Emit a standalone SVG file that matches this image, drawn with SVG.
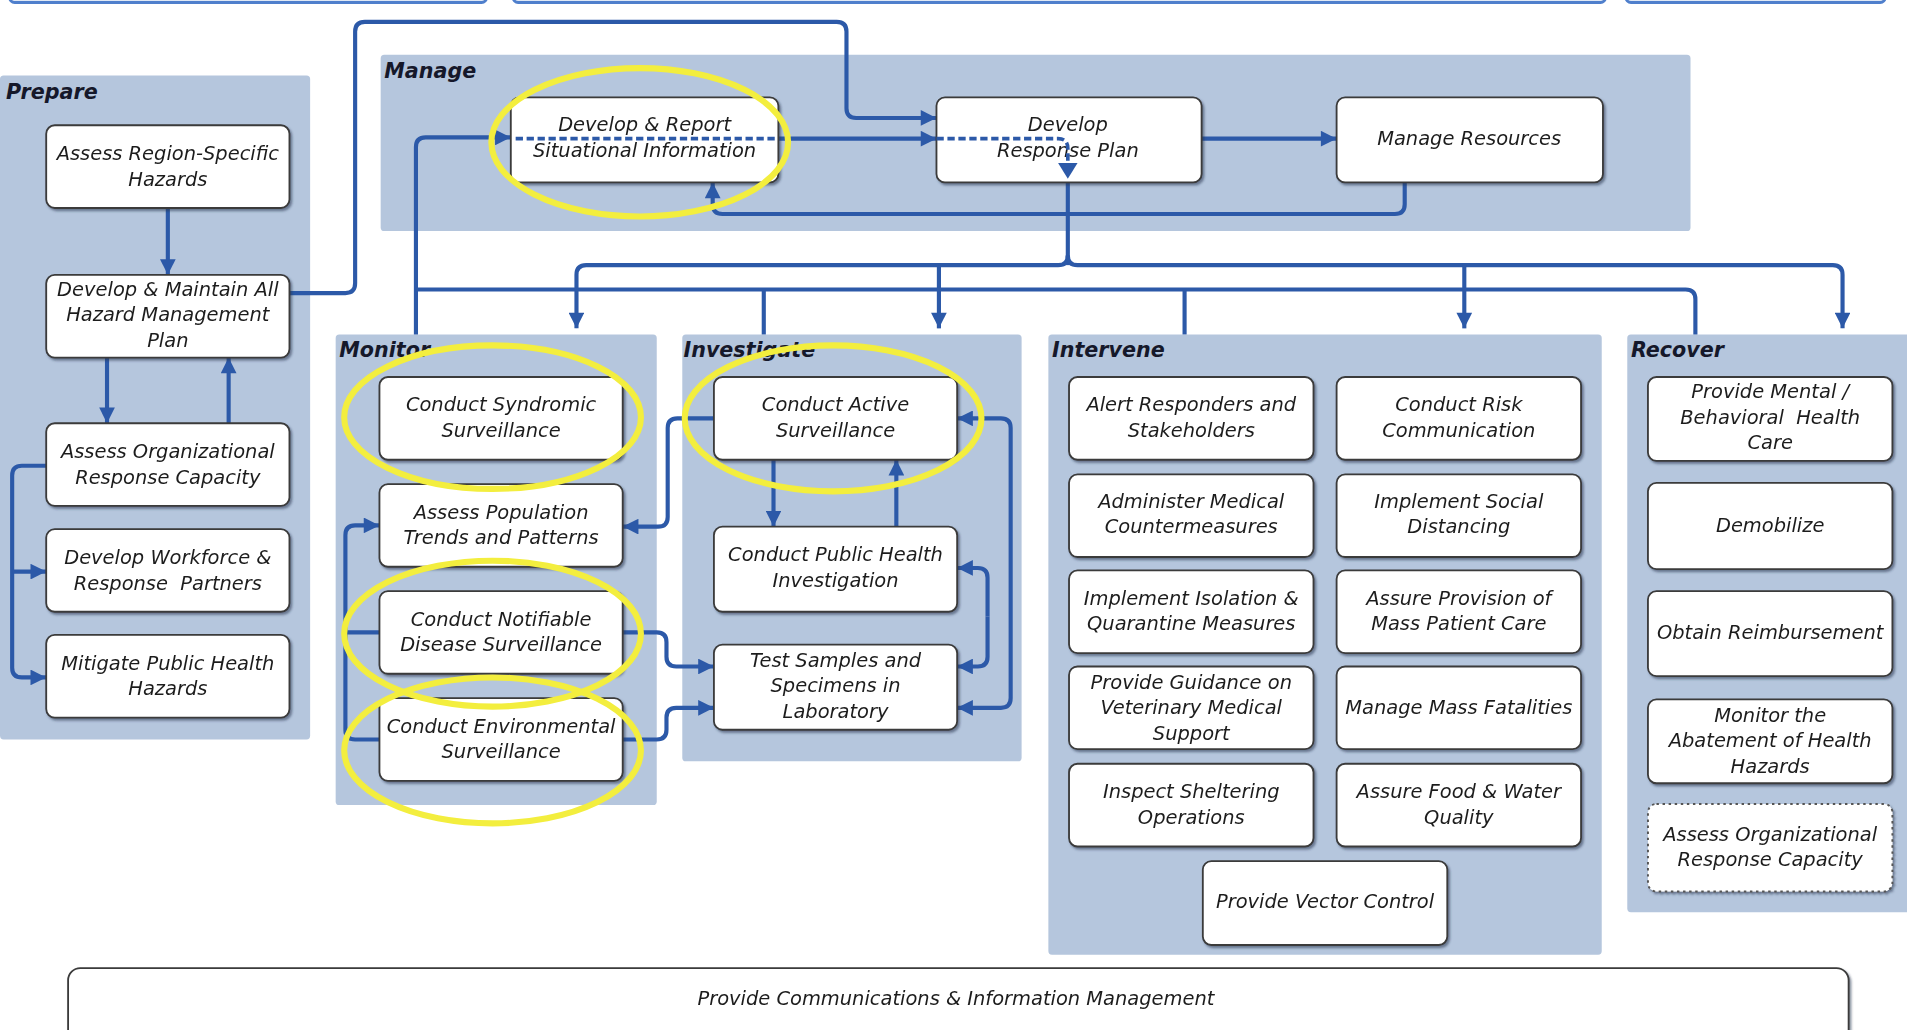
<svg xmlns="http://www.w3.org/2000/svg" width="1907" height="1030" viewBox="0 0 1907 1030">
<style>
.panel{fill:#b5c6dd}
.box{fill:#ffffff;stroke:#3a3a3a;stroke-width:1.5}
.dot{fill:#ffffff;stroke:#555;stroke-width:1.6;stroke-dasharray:2 3}
.t{font-family:'DejaVu Sans','Liberation Sans',sans-serif;font-style:italic;font-size:16px;fill:#1e1e1e;text-anchor:middle;dominant-baseline:central}
.lbl{font-family:'DejaVu Sans','Liberation Sans',sans-serif;font-style:italic;font-weight:bold;font-size:17px;fill:#15182a;dominant-baseline:central}
.c{fill:none;stroke:#2c59a8;stroke-width:3.4;stroke-linejoin:round}
.a{marker-end:url(#ah)}
.d{fill:none;stroke:#2c59a8;stroke-width:3;stroke-dasharray:6 3}
.ell{fill:none;stroke:#f3ee3e;stroke-width:5}
.strip{fill:#dfe8f5;stroke:#4f7fcc;stroke-width:2.5}
</style>
<defs>
<marker id="ah" viewBox="0 0 10 10" refX="10" refY="5" markerWidth="4.2" markerHeight="3.8" orient="auto" markerUnits="strokeWidth">
<path d="M0,0 L10,5 L0,10 z" fill="#2c59a8"/>
</marker>
<filter id="sh" x="-5%" y="-5%" width="115%" height="120%">
<feDropShadow dx="1.5" dy="1.8" stdDeviation="0.8" flood-color="#2a3550" flood-opacity="0.55"/>
</filter>
</defs>
<rect width="1907" height="1030" fill="#ffffff"/>
<g transform="scale(1.2162)">
<g id="top-strips">
<rect class="strip" x="8" y="-20" width="392" height="22" rx="4"/>
<rect class="strip" x="422" y="-20" width="898" height="22" rx="4"/>
<rect class="strip" x="1337" y="-20" width="213" height="22" rx="4"/>
</g>
<g id="panels">
<g id="panel-prepare"><rect class="panel" x="0" y="62" width="255" height="546" rx="3"/><text class="lbl" x="5" y="76">Prepare</text></g>
<g id="panel-manage"><rect class="panel" x="313" y="45" width="1077" height="145" rx="3"/><text class="lbl" x="316" y="58">Manage</text></g>
<g id="panel-monitor"><rect class="panel" x="276" y="275" width="264" height="387" rx="3"/><text class="lbl" x="279" y="288">Monitor</text></g>
<g id="panel-investigate"><rect class="panel" x="561" y="275" width="279" height="351" rx="3"/><text class="lbl" x="562" y="288">Investigate</text></g>
<g id="panel-intervene"><rect class="panel" x="862" y="275" width="455" height="510" rx="3"/><text class="lbl" x="865" y="288">Intervene</text></g>
<g id="panel-recover"><rect class="panel" x="1338" y="275" width="235" height="475" rx="3"/><text class="lbl" x="1341" y="288">Recover</text></g>
</g>
<g id="connectors">
<path class="c a" d="M138,171 V226"/>
<path class="c a" d="M88,294 V348"/>
<path class="c a" d="M188,348 V294"/>
<path class="c a" d="M38,383 H18 Q10,383 10,391 V549 Q10,557 18,557 H38"/>
<path class="c a" d="M10,470 H38"/>
<path class="c a" d="M238,241 H284 Q292,241 292,233 V26 Q292,18 300,18 H688 Q696,18 696,26 V89 Q696,97 704,97 H770"/>
<path class="c a" d="M342,275 V121 Q342,113 350,113 H420"/>
<path class="c" d="M342,238 H1386 Q1394,238 1394,246 V275"/>
<path class="c" d="M628,275 V238"/>
<path class="c" d="M974,275 V238"/>
<path class="c a" d="M640,114 H770"/>
<path class="c a" d="M988,114 H1099"/>
<path class="c a" d="M1155,150 V168 Q1155,176 1147,176 H594 Q586,176 586,168 V150"/>
<path class="c" d="M878,146 V218"/>
<path class="c a" d="M878,210 Q878,218 870,218 H482 Q474,218 474,226 V270"/>
<path class="c a" d="M878,210 Q878,218 886,218 H1507 Q1515,218 1515,226 V270"/>
<path class="c a" d="M772,218 V270"/>
<path class="c a" d="M1204,218 V270"/>
<path class="c a" d="M312,608 H292 Q284,608 284,600 V440 Q284,432 292,432 H312"/>
<path class="c" d="M312,520 H284"/>
<path class="c a" d="M587,344 H557 Q549,344 549,352 V425 Q549,433 541,433 H512"/>
<path class="c a" d="M636,378 V433"/>
<path class="c a" d="M737,433 V378"/>
<path class="c a" d="M512,520 H540 Q548,520 548,528 V540 Q548,548 556,548 H587"/>
<path class="c a" d="M512,608 H540 Q548,608 548,600 V590 Q548,582 556,582 H587"/>
<path class="c a" d="M831,463 V352 Q831,344 823,344 H787"/>
<path class="c a" d="M831,463 V574 Q831,582 823,582 H787"/>
<path class="c a" d="M812,507 V475 Q812,467 804,467 H787"/>
<path class="c a" d="M812,507 V540 Q812,548 804,548 H787"/>
</g>
<g id="nodes" filter="url(#sh)">
<g id="n-assess-region"><rect class="box" x="38" y="103" width="200" height="68" rx="7"/><text class="t" x="138" y="126.5">Assess Region-Specific</text><text class="t" x="138" y="147.5">Hazards</text></g>
<g id="n-develop-plan"><rect class="box" x="38" y="226" width="200" height="68" rx="7"/><text class="t" x="138" y="238">Develop &amp; Maintain All</text><text class="t" x="138" y="259">Hazard Management</text><text class="t" x="138" y="280">Plan</text></g>
<g id="n-assess-org"><rect class="box" x="38" y="348" width="200" height="68" rx="7"/><text class="t" x="138" y="371.5">Assess Organizational</text><text class="t" x="138" y="392.5">Response Capacity</text></g>
<g id="n-workforce"><rect class="box" x="38" y="435" width="200" height="68" rx="7"/><text class="t" x="138" y="458.5">Develop Workforce &amp;</text><text class="t" x="138" y="479.5" xml:space="preserve">Response  Partners</text></g>
<g id="n-mitigate"><rect class="box" x="38" y="522" width="200" height="68" rx="7"/><text class="t" x="138" y="545.5">Mitigate Public Health</text><text class="t" x="138" y="566.5">Hazards</text></g>

<g id="n-sitinfo"><rect class="box" x="420" y="80" width="220" height="70" rx="7"/><text class="t" x="530" y="102">Develop &amp; Report</text><text class="t" x="530" y="124">Situational Information</text></g>
<g id="n-response-plan"><rect class="box" x="770" y="80" width="218" height="70" rx="7"/><text class="t" x="878" y="102">Develop</text><text class="t" x="878" y="124">Response Plan</text></g>
<g id="n-resources"><rect class="box" x="1099" y="80" width="219" height="70" rx="7"/><text class="t" x="1208" y="114">Manage Resources</text></g>

<g id="n-syndromic"><rect class="box" x="312" y="310" width="200" height="68" rx="7"/><text class="t" x="412" y="333">Conduct Syndromic</text><text class="t" x="412" y="354">Surveillance</text></g>
<g id="n-population"><rect class="box" x="312" y="398" width="200" height="68" rx="7"/><text class="t" x="412" y="421">Assess Population</text><text class="t" x="412" y="442">Trends and Patterns</text></g>
<g id="n-notifiable"><rect class="box" x="312" y="486" width="200" height="68" rx="7"/><text class="t" x="412" y="509">Conduct Notifiable</text><text class="t" x="412" y="530">Disease Surveillance</text></g>
<g id="n-environmental"><rect class="box" x="312" y="574" width="200" height="68" rx="7"/><text class="t" x="412" y="597">Conduct Environmental</text><text class="t" x="412" y="618">Surveillance</text></g>

<g id="n-active"><rect class="box" x="587" y="310" width="200" height="68" rx="7"/><text class="t" x="687" y="333">Conduct Active</text><text class="t" x="687" y="354">Surveillance</text></g>
<g id="n-investigation"><rect class="box" x="587" y="433" width="200" height="70" rx="7"/><text class="t" x="687" y="456">Conduct Public Health</text><text class="t" x="687" y="477">Investigation</text></g>
<g id="n-lab"><rect class="box" x="587" y="530" width="200" height="70" rx="7"/><text class="t" x="687" y="543">Test Samples and</text><text class="t" x="687" y="564">Specimens in</text><text class="t" x="687" y="585">Laboratory</text></g>

<g id="n-alert"><rect class="box" x="879" y="310" width="201" height="68" rx="7"/><text class="t" x="979.5" y="333">Alert Responders and</text><text class="t" x="979.5" y="354">Stakeholders</text></g>
<g id="n-risk"><rect class="box" x="1099" y="310" width="201" height="68" rx="7"/><text class="t" x="1199.5" y="333">Conduct Risk</text><text class="t" x="1199.5" y="354">Communication</text></g>
<g id="n-countermeasures"><rect class="box" x="879" y="390" width="201" height="68" rx="7"/><text class="t" x="979.5" y="412">Administer Medical</text><text class="t" x="979.5" y="433">Countermeasures</text></g>
<g id="n-distancing"><rect class="box" x="1099" y="390" width="201" height="68" rx="7"/><text class="t" x="1199.5" y="412">Implement Social</text><text class="t" x="1199.5" y="433">Distancing</text></g>
<g id="n-isolation"><rect class="box" x="879" y="469" width="201" height="68" rx="7"/><text class="t" x="979.5" y="492">Implement Isolation &amp;</text><text class="t" x="979.5" y="513">Quarantine Measures</text></g>
<g id="n-masscare"><rect class="box" x="1099" y="469" width="201" height="68" rx="7"/><text class="t" x="1199.5" y="492">Assure Provision of</text><text class="t" x="1199.5" y="513">Mass Patient Care</text></g>
<g id="n-veterinary"><rect class="box" x="879" y="548" width="201" height="68" rx="7"/><text class="t" x="979.5" y="561">Provide Guidance on</text><text class="t" x="979.5" y="582">Veterinary Medical</text><text class="t" x="979.5" y="603">Support</text></g>
<g id="n-fatalities"><rect class="box" x="1099" y="548" width="201" height="68" rx="7"/><text class="t" x="1199.5" y="582">Manage Mass Fatalities</text></g>
<g id="n-sheltering"><rect class="box" x="879" y="628" width="201" height="68" rx="7"/><text class="t" x="979.5" y="651">Inspect Sheltering</text><text class="t" x="979.5" y="672">Operations</text></g>
<g id="n-foodwater"><rect class="box" x="1099" y="628" width="201" height="68" rx="7"/><text class="t" x="1199.5" y="651">Assure Food &amp; Water</text><text class="t" x="1199.5" y="672">Quality</text></g>
<g id="n-vector"><rect class="box" x="989" y="708" width="201" height="69" rx="7"/><text class="t" x="1089.5" y="741">Provide Vector Control</text></g>

<g id="n-mental"><rect class="box" x="1355" y="310" width="201" height="69" rx="7"/><text class="t" x="1455.5" y="322">Provide Mental /</text><text class="t" x="1455.5" y="343" xml:space="preserve">Behavioral  Health</text><text class="t" x="1455.5" y="364">Care</text></g>
<g id="n-demobilize"><rect class="box" x="1355" y="397" width="201" height="71" rx="7"/><text class="t" x="1455.5" y="432">Demobilize</text></g>
<g id="n-reimbursement"><rect class="box" x="1355" y="486" width="201" height="70" rx="7"/><text class="t" x="1455.5" y="520">Obtain Reimbursement</text></g>
<g id="n-abatement"><rect class="box" x="1355" y="575" width="201" height="69" rx="7"/><text class="t" x="1455.5" y="588">Monitor the</text><text class="t" x="1455.5" y="609">Abatement of Health</text><text class="t" x="1455.5" y="630">Hazards</text></g>
<g id="n-assess-org-recover"><rect class="dot" x="1355" y="661" width="201" height="72" rx="7"/><text class="t" x="1455.5" y="686">Assess Organizational</text><text class="t" x="1455.5" y="707">Response Capacity</text></g>

<g id="n-communications"><rect class="box" x="56" y="796" width="1464" height="80" rx="10"/><text class="t" x="786" y="821">Provide Communications &amp; Information Management</text></g>
</g>
<g id="connectors-overlay">
<path class="d" d="M424,114 H640"/>
<path class="d" d="M770,114 H870 Q878,114 878,122 V134"/>
<path d="M870,134 L886,134 L878,147 z" fill="#2c59a8"/>
</g>
<g id="highlights">
<ellipse class="ell" cx="526" cy="117" rx="122" ry="61"/>
<ellipse class="ell" cx="405" cy="343" rx="122" ry="59"/>
<ellipse class="ell" cx="685" cy="344" rx="122" ry="60"/>
<ellipse class="ell" cx="405" cy="521" rx="122" ry="60"/>
<ellipse class="ell" cx="405" cy="617" rx="122" ry="60"/>
</g>
</g>
</svg>
